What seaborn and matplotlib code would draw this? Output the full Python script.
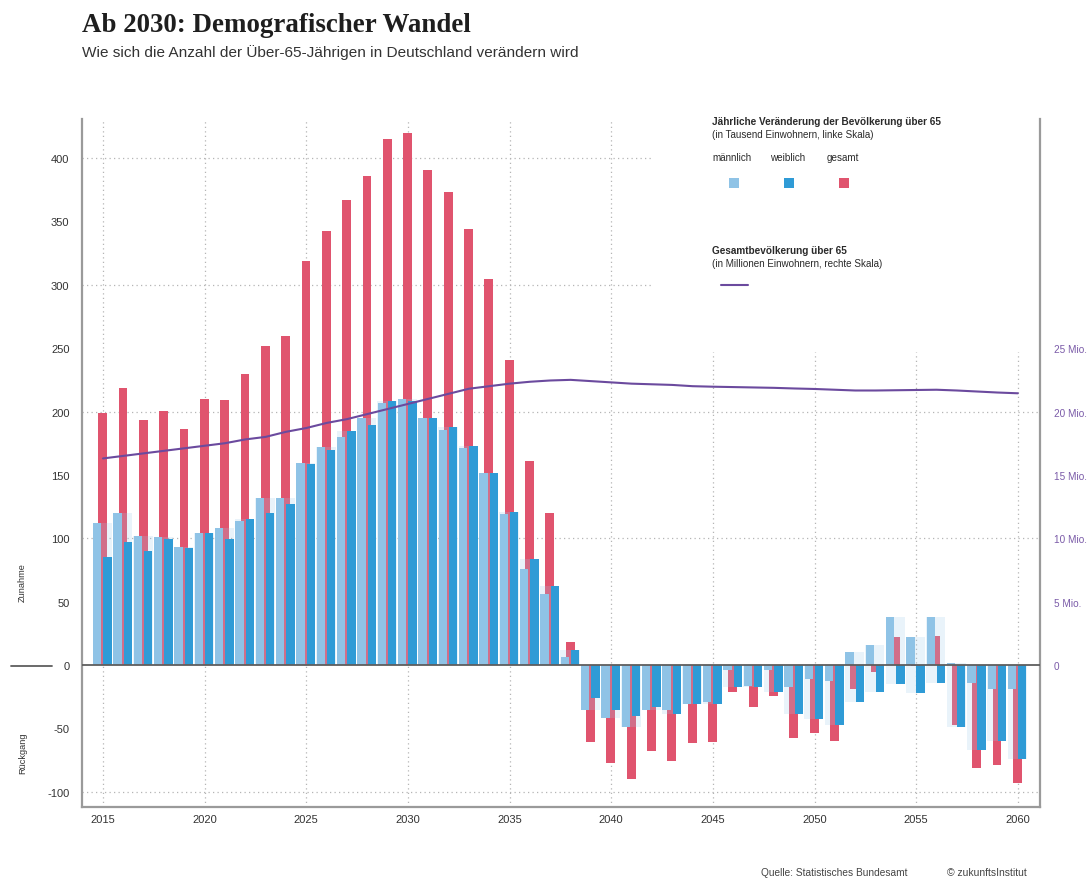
import numpy as np
import matplotlib
matplotlib.use("Agg")
import matplotlib.pyplot as plt
from matplotlib.lines import Line2D
from matplotlib.patches import Rectangle
import seaborn as sns

# Jährliche Veränderung (Tsd.) und Gesamtbevölkerung über 65 (Mio.)
years = np.arange(2015, 2061)
maennlich = [111.8, 119.9, 102.0, 100.7, 93.4, 104.4, 107.8, 113.9, 132.0, 132.0,
             159.6, 171.7, 180.1, 194.6, 206.7, 210.1, 194.6, 185.4, 171.0, 151.2,
             119.1, 75.7, 56.3, 6.0, -35.5, -41.5, -48.6, -35.5, -35.5, -30.8,
             -29.4, -3.9, -16.6, -3.9, -17.6, -11.3, -12.6, 10.0, 16.1, 37.6,
             21.9, 37.6, 1.3, -13.9, -18.6, -18.6]
weiblich = [85.0, 97.3, 90.2, 99.7, 92.3, 104.4, 99.7, 115.2, 119.9, 127.0,
            158.6, 169.4, 184.9, 189.6, 208.0, 208.0, 194.6, 187.5, 173.0, 151.2,
            121.0, 83.9, 62.3, 11.8, -25.7, -35.5, -40.2, -33.1, -38.9, -30.8,
            -30.8, -17.6, -17.6, -21.0, -38.9, -42.8, -47.6, -29.4, -21.0, -15.2,
            -22.3, -13.9, -48.6, -66.8, -59.6, -74.4]
gesamt = [198.8, 218.5, 193.6, 200.7, 186.2, 210.0, 209.0, 229.6, 251.7, 259.8,
          318.4, 342.6, 366.9, 386.1, 415.0, 419.7, 390.8, 372.9, 344.0, 304.3,
          240.4, 161.2, 120.2, 17.9, -61.0, -77.6, -89.6, -68.1, -75.4, -61.8,
          -61.0, -21.0, -33.1, -24.7, -57.3, -53.6, -59.6, -18.6, -5.5, 22.1,
          -0.4, 23.2, -47.3, -81.3, -78.9, -93.3]
bevoelkerung = [16.3, 16.5, 16.7, 16.9, 17.1, 17.3, 17.5, 17.8, 18.0, 18.4,
                18.7, 19.1, 19.4, 19.8, 20.2, 20.6, 21.0, 21.4, 21.8, 22.0,
                22.2, 22.35, 22.45, 22.5, 22.4, 22.3, 22.2, 22.15, 22.1, 22.0,
                21.96, 21.93, 21.9, 21.87, 21.82, 21.78, 21.72, 21.66, 21.66, 21.68,
                21.7, 21.72, 21.66, 21.58, 21.5, 21.44]

left_ticks = [-100, -50, 0, 50, 100, 150, 200, 250, 300, 350, 400]
right_ticks = [0, 5, 10, 15, 20, 25]
right_labels = ["0", "5 Mio.", "10 Mio.", "15 Mio.", "20 Mio.", "25 Mio."]
x_ticks = [2015, 2020, 2025, 2030, 2035, 2040, 2045, 2050, 2055, 2060]

c_m = "#8fc3e6"
c_w = "#2f9bd6"
c_g = "#e0546e"
c_line = "#6b4a9e"
c_purple_txt = "#7a5aa8"
grid_c = "#b5b5b5"
spine_c = "#9a9a9a"

sns.set_theme(style="white")
plt.rcParams["font.family"] = ["Liberation Sans", "DejaVu Sans"]

W, H = 1088, 879
fig = plt.figure(figsize=(W / 100, H / 100), dpi=100)
ax = fig.add_axes([82 / W, 1 - 808 / H, (1040 - 82) / W, (808 - 120) / H])

x_lo, x_hi = 2013.967, 2061.09
y_lo, y_hi = -112, 430.8

# Gitterlinien (gepunktet)
dots = (0, (1, 2.6))
ax.vlines([2015, 2020, 2025, 2030, 2035, 2040], y_lo, y_hi, colors=grid_c,
          linestyles=dots, lw=0.9, zorder=1)
ax.vlines([2045, 2050, 2055, 2060], y_lo, 247, colors=grid_c,
          linestyles=dots, lw=0.9, zorder=1)
ax.hlines([300, 400], x_lo, 2042.0, colors=grid_c, linestyles=dots, lw=0.9, zorder=1)
ax.hlines([-100, 100, 200], x_lo, x_hi, colors=grid_c, linestyles=dots, lw=0.9, zorder=1)

# Balken
m = np.array(maennlich)
w = np.array(weiblich)
sns.barplot(x=years - 0.02, y=gesamt, native_scale=True, width=0.43, color=c_g,
            saturation=1, errorbar=None, linewidth=0, zorder=2, ax=ax)
lo = np.minimum(np.minimum(m, w), 0)
hi = np.maximum(np.maximum(m, w), 0)
ax.bar(years - 0.03, hi - lo, bottom=lo, width=0.94, color="#9ccbea",
       alpha=0.22, linewidth=0, zorder=3)
sns.barplot(x=years - 0.28, y=maennlich, native_scale=True, width=0.41, color=c_m,
            saturation=1, errorbar=None, linewidth=0, zorder=4, ax=ax)
sns.barplot(x=years + 0.22, y=weiblich, native_scale=True, width=0.41, color=c_w,
            saturation=1, errorbar=None, linewidth=0, zorder=4, ax=ax)

ax.axhline(0, color="#5e5e5e", lw=1.3, zorder=5)

ax.set_xlim(x_lo, x_hi)
ax.set_ylim(y_lo, y_hi)
ax.set_xticks(x_ticks)
ax.set_xticklabels([str(t) for t in x_ticks], fontsize=8, color="#333333")
ax.set_yticks(left_ticks)
ax.set_yticklabels([str(t) for t in left_ticks], fontsize=8, color="#333333")
ax.tick_params(axis="x", length=0, pad=5)
ax.tick_params(axis="y", length=0, pad=9)
ax.set_xlabel("")
ax.set_ylabel("")
ax.grid(False)
for side in ["left", "bottom", "right"]:
    ax.spines[side].set_color(spine_c)
    ax.spines[side].set_linewidth(1.6)
ax.spines["top"].set_visible(False)

# rechte Skala: Gesamtbevölkerung
ax2 = ax.twinx()
sns.lineplot(x=years, y=bevoelkerung, color=c_line, lw=1.5, ax=ax2, zorder=6)
ax2.set_ylim(y_lo / 10, y_hi / 10)
ax2.set_xlim(x_lo, x_hi)
ax2.set_yticks(right_ticks)
ax2.set_yticklabels(right_labels, fontsize=7.2, color=c_purple_txt)
ax2.tick_params(axis="y", length=0, pad=10)
ax2.set_ylabel("")
ax2.set_xlabel("")
ax2.grid(False)
for s in ax2.spines.values():
    s.set_visible(False)


def fx(px):
    return px / W


def fy(py):
    return 1 - py / H


# Titel
fig.text(fx(82), fy(32), "Ab 2030: Demografischer Wandel", fontsize=19.4,
         fontweight="bold", family=["Liberation Serif", "DejaVu Serif"],
         color="#1e1e1e", va="baseline")
fig.text(fx(82), fy(57), "Wie sich die Anzahl der Über-65-Jährigen in Deutschland verändern wird",
         fontsize=11.1, color="#333333", va="baseline")

# Legende
fig.text(fx(712), fy(125), "Jährliche Veränderung der Bevölkerung über 65",
         fontsize=7.2, fontweight="bold", color="#2a2a2a", va="baseline")
fig.text(fx(712), fy(138), "(in Tausend Einwohnern, linke Skala)",
         fontsize=7.1, color="#2a2a2a", va="baseline")
for lx, sx, lab, col in [(712, 734, "männlich", c_m), (770, 789, "weiblich", c_w),
                         (827, 844, "gesamt", c_g)]:
    fig.text(fx(lx), fy(161), lab, fontsize=7.1, color="#2a2a2a", va="baseline")
    fig.add_artist(Rectangle((fx(sx - 4.7), fy(184 + 4.7)), 9.4 / W, 9.4 / H,
                             transform=fig.transFigure, color=col, lw=0))
fig.text(fx(712), fy(254), "Gesamtbevölkerung über 65",
         fontsize=7.2, fontweight="bold", color="#2a2a2a", va="baseline")
fig.text(fx(712), fy(267), "(in Millionen Einwohnern, rechte Skala)",
         fontsize=7.1, color="#2a2a2a", va="baseline")
fig.add_artist(Line2D([fx(721), fx(748)], [fy(285.5), fy(285.5)],
                      transform=fig.transFigure, color=c_line, lw=1.5))

# linke Beschriftung
fig.add_artist(Line2D([fx(11), fx(52)], [fy(666.5), fy(666.5)],
                      transform=fig.transFigure, color="#5e5e5e", lw=1.3))
fig.text(fx(22.5), fy(583), "Zunahme", rotation=90, fontsize=6.7,
         color="#333333", ha="center", va="center")
fig.text(fx(22.5), fy(753), "Rückgang", rotation=90, fontsize=6.7,
         color="#333333", ha="center", va="center")

# Quelle
fig.text(fx(761), fy(873), "Quelle: Statistisches Bundesamt", fontsize=7.3,
         color="#444444", va="center")
fig.text(fx(947), fy(873), "© zukunftsInstitut", fontsize=7.5,
         color="#444444", va="center")

fig.savefig("out.png", dpi=100)
